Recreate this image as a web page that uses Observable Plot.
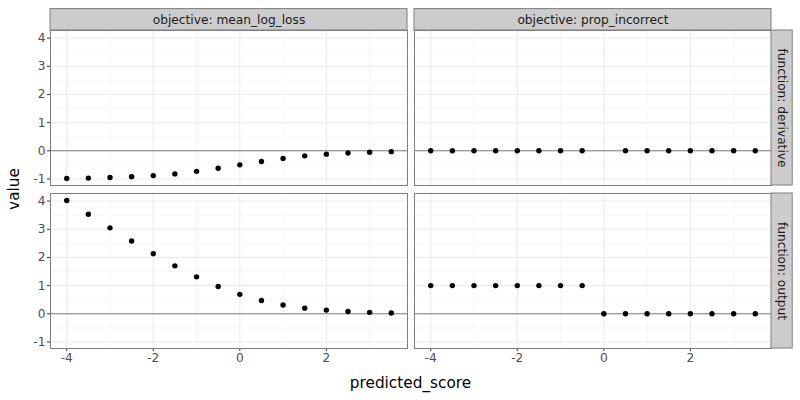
<!DOCTYPE html>
<html><head><meta charset="utf-8">
<script src="https://cdn.jsdelivr.net/npm/d3@7"></script>
<script src="https://cdn.jsdelivr.net/npm/@observablehq/plot@0.6"></script>
<style>
body{margin:0;background:#fff;}
#chart{position:relative;width:800px;height:400px;}
#chart svg g[aria-label$="axis tick label"] text,
#chart svg g[aria-label="x-axis"] text,
#chart svg g[aria-label="y-axis"] text{fill:#4d4d4d;}
</style></head><body><div id="chart"></div>
<script>
const scores = [-4,-3.5,-3,-2.5,-2,-1.5,-1,-0.5,0,0.5,1,1.5,2,2.5,3,3.5];
const logLossOutput = [4.02,3.53,3.05,2.58,2.13,1.70,1.31,0.97,0.69,0.47,0.31,0.20,0.13,0.08,0.05,0.03];
const logLossDerivative = [-0.98,-0.97,-0.95,-0.92,-0.88,-0.82,-0.73,-0.62,-0.50,-0.38,-0.27,-0.18,-0.12,-0.08,-0.05,-0.03];
const propIncorrectOutput = [1,1,1,1,1,1,1,1,0,0,0,0,0,0,0,0];
const propIncorrectDerivative = [0,0,0,0,0,0,0,0,null,0,0,0,0,0,0,0];
const objectives = ["mean_log_loss","prop_incorrect"];
const functions = ["derivative","output"];
const xTicks = [-4,-2,0,2];
const xMinor = [-3,-1,1,3];
const yTicks = [-1,0,1,2,3,4];
const yMinor = [-0.5,0.5,1.5,2.5,3.5];

const series = [
  {objective: objectives[0], fn: functions[0], values: logLossDerivative},
  {objective: objectives[1], fn: functions[0], values: propIncorrectDerivative},
  {objective: objectives[0], fn: functions[1], values: logLossOutput},
  {objective: objectives[1], fn: functions[1], values: propIncorrectOutput}
];
const data = series.flatMap(s => scores.map((x, i) => ({predicted_score: x, value: s.values[i], objective: s.objective, fn: s.fn})));

const xDom = [-4.375, 3.875];
const yDom = [-1.232, 4.268];
const topStrips = objectives.map(o => ({objective: o, fn: functions[0], x1: xDom[0], x2: xDom[1], y1: yDom[1], y2: yDom[1] + 0.76}));
const rightStrips = functions.map(f => ({objective: objectives[1], fn: f, x1: xDom[1], x2: xDom[1] + 0.49, y1: yDom[0], y2: yDom[1]}));

const fmt = d => String(d);
const plot = Plot.plot({
  width: 800, height: 400,
  marginLeft: 50, marginRight: 28.5, marginTop: 29.5, marginBottom: 52.3,
  style: {fontFamily: "DejaVu Sans", fontSize: "12.2px", background: "#fff", color: "#333333"},
  x: {domain: xDom, ticks: xTicks, tickSize: 3, tickPadding: 2, tickFormat: fmt, label: null},
  y: {domain: yDom, ticks: yTicks, tickSize: 3, tickPadding: 2, tickFormat: fmt, label: null},
  fx: {domain: objectives, axis: null, paddingInner: 0.0206, paddingOuter: 0},
  fy: {domain: functions, axis: null, paddingInner: 0.052, paddingOuter: 0},
  marks: [
    Plot.ruleX(xMinor, {stroke: "#f4f4f4", strokeWidth: 0.8}),
    Plot.ruleY(yMinor, {stroke: "#f4f4f4", strokeWidth: 0.8}),
    Plot.ruleX(xTicks, {stroke: "#ebebeb", strokeWidth: 1.1}),
    Plot.ruleY(yTicks, {stroke: "#ebebeb", strokeWidth: 1.1}),
    Plot.ruleY([0], {stroke: "#7f7f7f", strokeWidth: 1}),
    Plot.dot(data, {x: "predicted_score", y: "value", fx: "objective", fy: "fn", r: 2.7, fill: "black", stroke: "none"}),
    Plot.frame({stroke: "#7f7f7f", strokeWidth: 1}),
    Plot.rect(topStrips, {fx: "objective", fy: "fn", x1: "x1", x2: "x2", y1: "y1", y2: "y2", fill: "#cccccc", stroke: "#7f7f7f", strokeWidth: 1}),
    Plot.rect(rightStrips, {fx: "objective", fy: "fn", x1: "x1", x2: "x2", y1: "y1", y2: "y2", fill: "#cccccc", stroke: "#7f7f7f", strokeWidth: 1}),
    Plot.text(topStrips, {fx: "objective", fy: "fn", text: d => "objective: " + d.objective, frameAnchor: "top", textAnchor: "middle", lineAnchor: "middle", dy: -10.75, fill: "#1a1a1a", fontSize: 12.2}),
    Plot.text(rightStrips, {fx: "objective", fy: "fn", text: d => "function: " + d.fn, frameAnchor: "right", textAnchor: "middle", lineAnchor: "middle", dx: 10.5, rotate: 90, fill: "#1a1a1a", fontSize: 12.2})
  ]
});
const svg = d3.select(plot);
svg.append("text").attr("x", 410.5).attr("y", 383).attr("text-anchor", "middle").attr("dominant-baseline", "middle")
  .attr("font-size", "15.3px").attr("fill", "#000").text("predicted_score");
svg.append("text").attr("transform", "translate(14,189) rotate(-90)").attr("text-anchor", "middle").attr("dominant-baseline", "middle")
  .attr("font-size", "15.3px").attr("fill", "#000").text("value");
document.getElementById("chart").appendChild(plot);
</script></body></html>
